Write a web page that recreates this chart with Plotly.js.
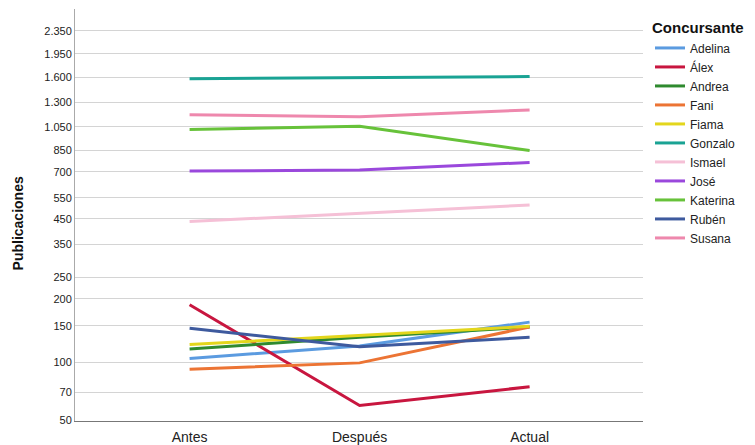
<!DOCTYPE html>
<html>
<head>
<meta charset="utf-8">
<script src="https://cdn.plot.ly/plotly-3.0.1.min.js"></script>
<style>html,body{margin:0;padding:0;background:#fff;}#chart{width:755px;height:445px;}</style>
</head>
<body>
<div id="chart"></div>
<script>
const categories = ["Antes", "Después", "Actual"];
const names = ["Adelina", "Álex", "Andrea", "Fani", "Fiama", "Gonzalo", "Ismael", "José", "Katerina", "Rubén", "Susana"];
const Adelina  = [104, 120, 156];
const Alex     = [188, 60, 75];
const Andrea   = [116, 132, 148];
const Fani     = [92, 99, 148];
const Fiama    = [122, 135, 149];
const Gonzalo  = [1585, 1595, 1615];
const Ismael   = [438, 474, 513];
const Jose     = [705, 712, 763];
const Katerina = [1025, 1055, 850];
const Ruben    = [146, 119, 132];
const Susana   = [1165, 1145, 1215];
const tickValues = [50, 70, 100, 150, 200, 250, 350, 450, 550, 700, 850, 1050, 1300, 1600, 1950, 2350];
const tickLabels = ["50", "70", "100", "150", "200", "250", "350", "450", "550", "700", "850", "1.050", "1.300", "1.600", "1.950", "2.350"];

const seriesValues = [Adelina, Alex, Andrea, Fani, Fiama, Gonzalo, Ismael, Jose, Katerina, Ruben, Susana];
const colors = ["#5b9be0", "#c8163f", "#2f8a2f", "#ec7434", "#e3d61c", "#1aa394", "#f5c0d6", "#9a48dc", "#67c23a", "#3e5a9e", "#ee88ad"];

// power-scale axis transform (as in the original chart)
const P = 0.112;
const tf = v => Math.pow(v, P);

const FONT = "'Liberation Sans', Arial, sans-serif";

const traces = names.map((n, i) => ({
  type: "scatter",
  mode: "lines",
  name: n,
  x: categories,
  y: seriesValues[i].map(tf),
  line: {color: colors[i], width: 3},
  hoverinfo: "skip"
}));

const layout = {
  width: 755, height: 445,
  margin: {l: 75, r: 112, t: 9, b: 24},
  paper_bgcolor: "#fff", plot_bgcolor: "#fff",
  font: {family: FONT, color: "#222"},
  xaxis: {
    type: "category",
    range: [-0.674, 2.667],
    showgrid: false, zeroline: false,
    showline: true, linecolor: "#777", linewidth: 1,
    ticks: "outside", ticklen: 3, tickcolor: "rgba(0,0,0,0)",
    tickfont: {family: FONT, size: 14, color: "#222"}
  },
  yaxis: {
    range: [1.5484, 2.4321],
    tickvals: tickValues.map(tf),
    ticktext: tickLabels,
    showgrid: true, gridcolor: "#d4d4d4", gridwidth: 1,
    zeroline: false,
    showline: true, linecolor: "#aaa", linewidth: 1,
    ticks: "", tickfont: {family: FONT, size: 11, color: "#222"}
  },
  showlegend: true,
  legend: {
    x: 1.0123, xanchor: "left", y: 0.988, yanchor: "top",
    font: {family: FONT, size: 12, color: "#222"},
    title: {text: "<b>Concursante</b>", font: {family: FONT, size: 15, color: "#111"}},
    tracegroupgap: 0, itemwidth: 30,
    bgcolor: "rgba(0,0,0,0)"
  },
  annotations: [{
    text: "<b>Publicaciones</b>",
    xref: "paper", yref: "paper",
    x: -0.1, y: 0.48, xanchor: "center", yanchor: "middle",
    textangle: -90, showarrow: false,
    font: {family: FONT, size: 14, color: "#111"}
  }]
};

Plotly.newPlot("chart", traces, layout, {displayModeBar: false, staticPlot: true});
</script>
</body>
</html>
